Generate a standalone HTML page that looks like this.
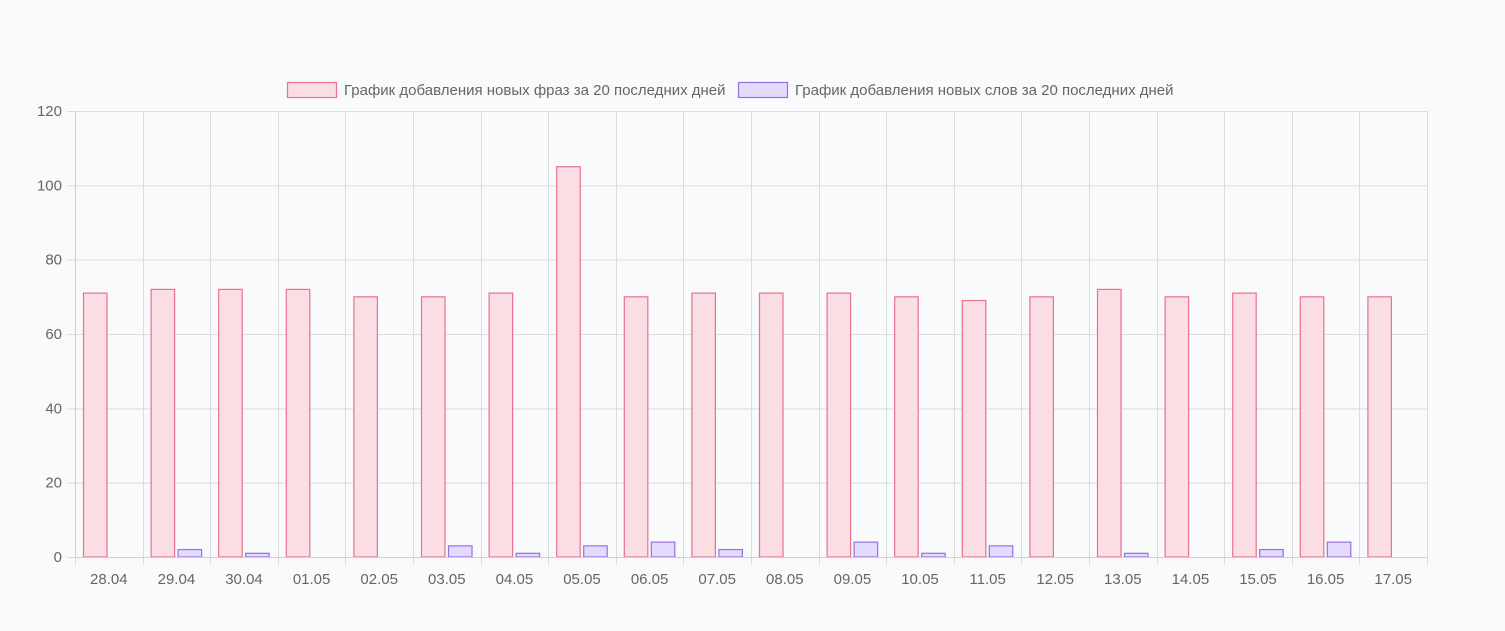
<!DOCTYPE html>
<html><head><meta charset="utf-8"><style>
body{margin:0;background:#f9fafc;font-family:"Liberation Sans",sans-serif}
</style></head><body>
<svg id="c" width="1505" height="631" xmlns="http://www.w3.org/2000/svg" style="display:block;background:#f9fafc"></svg>
<script>
const categories=["28.04","29.04","30.04","01.05","02.05","03.05","04.05","05.05","06.05","07.05","08.05","09.05","10.05","11.05","12.05","13.05","14.05","15.05","16.05","17.05"];
const phrases=[71,72,72,72,70,70,71,105,70,71,71,71,70,69,70,72,70,71,70,70];
const words=[0,2,1,0,0,3,1,3,4,2,0,4,1,3,0,1,0,2,4,0];
const yTicks=[0,20,40,60,80,100,120];
const seriesNames=["График добавления новых фраз за 20 последних дней","График добавления новых слов за 20 последних дней"];
const svg=document.getElementById('c');const NS="http://www.w3.org/2000/svg";
const L=75,R=1427,T=111,B=557,yMax=120;
const cw=(R-L)/categories.length;
const y=v=>B-(v/yMax)*(B-T);
const xc=i=>L+i*cw;
function mk(t,a,p){const e=document.createElementNS(NS,t);for(const k in a)e.setAttribute(k,a[k]);(p||svg).appendChild(e);return e;}
yTicks.forEach(v=>{
 const g=mk('line',{x1:67,x2:R,y1:y(v)+0.5,y2:y(v)+0.5,stroke:'#dcdcdc'});
 
 
 const t=mk('text',{x:62,y:y(v)+5,'text-anchor':'end','font-size':15,fill:'#666'});t.textContent=v;
 
 
});
for(let i=0;i<=categories.length;i++){
 const g=mk('line',{x1:Math.round(xc(i))+0.5,x2:Math.round(xc(i))+0.5,y1:T,y2:B+8,stroke:'#dcdcdc'});
 
 
}
categories.forEach((c,i)=>{
 const t=mk('text',{x:xc(i)+cw/2,y:584,'text-anchor':'middle','font-size':15,fill:'#666'});t.textContent=c;
 
 
 const bw=23.5;
 const p=mk('rect',{x:xc(i)+8.5,y:y(phrases[i]),width:bw,height:B-y(phrases[i]),fill:'#fbdde4',stroke:'#ea7090','stroke-width':1.2});
 
 
 if(words[i]>0){
 const w=mk('rect',{x:xc(i)+35.5,y:y(words[i]),width:bw,height:B-y(words[i]),fill:'#e4dafd',stroke:'#9a6fe0','stroke-width':1.2});
 
 
 }
});
const la=mk('line',{x1:L+0.5,x2:L+0.5,y1:T,y2:B,stroke:'#cfcfcf'});


const lb=mk('line',{x1:L,x2:R,y1:B+0.5,y2:B+0.5,stroke:'#cfcfcf'});


const lx=[287,738],fills=['#fbdde4','#e4dafd'],strokes=['#ea7090','#9a6fe0'];
seriesNames.forEach((n,i)=>{
 const r=mk('rect',{x:lx[i]+0.5,y:82.5,width:49,height:15,fill:fills[i],stroke:strokes[i],'stroke-width':1.2});
 
 
 const t=mk('text',{x:lx[i]+57,y:95,'font-size':15,fill:'#666'});t.textContent=n;
 
 
});
</script>
</body></html>
